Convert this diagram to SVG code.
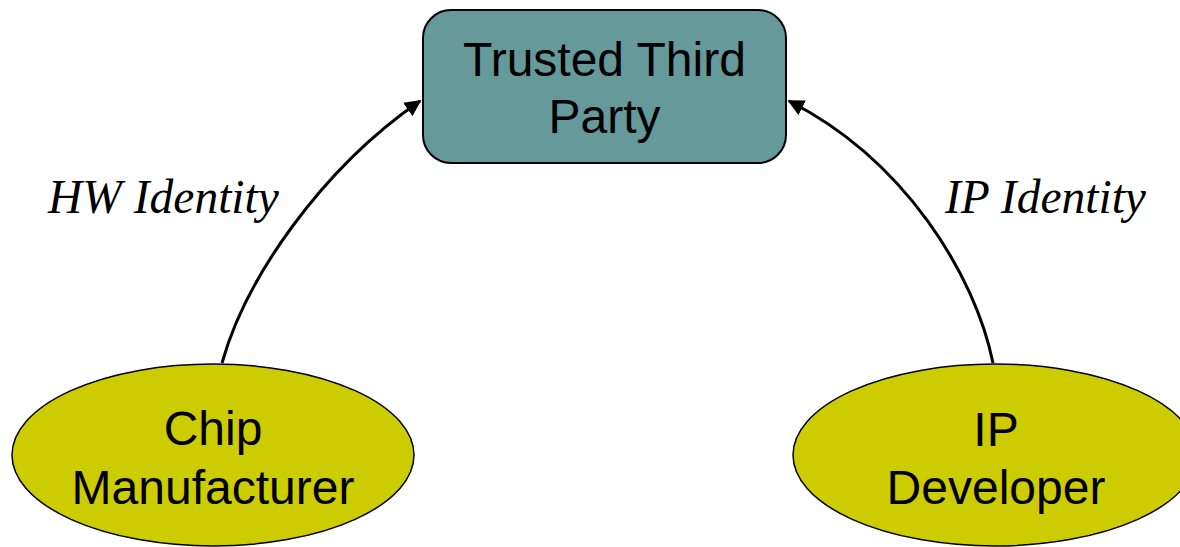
<svg xmlns="http://www.w3.org/2000/svg" width="1180" height="547" viewBox="0 0 1180 547">
  <style>
    .node-text { font-family: "Liberation Sans", Arial, sans-serif; font-size: 48px; fill: #000; text-anchor: middle; }
    .edge-label { font-family: "Liberation Serif", "Times New Roman", serif; font-style: italic; font-size: 47.5px; fill: #000; }
    .ttp { fill: #669999; stroke: #000; stroke-width: 2; }
    .party { fill: #CCCC00; stroke: #000; stroke-width: 1.5; }
    .edge { fill: none; stroke: #000; stroke-width: 3; marker-end: url(#arrow); }
  </style>
  <defs>
    <marker id="arrow" viewBox="0 0 10 10" refX="9" refY="5" markerWidth="5.5" markerHeight="5.5" orient="auto" markerUnits="strokeWidth">
      <path d="M0,0 L10,5 L0,10 Z" fill="#000"/>
    </marker>
  </defs>

  <rect width="1180" height="547" fill="#fff"/>

  <g id="connectors">
    <path class="edge" d="M222,363 C245,280 320,170 420,101"/>
    <path class="edge" d="M993,363 C975,275 905,160 789,101"/>
    <text class="edge-label" x="48" y="213">HW Identity</text>
    <text class="edge-label" x="945" y="213">IP Identity</text>
  </g>

  <g id="trusted-third-party">
    <rect class="ttp" x="423" y="10" width="363" height="153" rx="28" ry="28"/>
    <text class="node-text" x="604.5" y="76">Trusted Third</text>
    <text class="node-text" x="604.5" y="133">Party</text>
  </g>

  <g id="chip-manufacturer">
    <ellipse class="party" cx="213" cy="455" rx="201" ry="91"/>
    <text class="node-text" x="213" y="445">Chip</text>
    <text class="node-text" x="213" y="504">Manufacturer</text>
  </g>

  <g id="ip-developer">
    <ellipse class="party" cx="995" cy="455" rx="202" ry="91"/>
    <text class="node-text" x="996" y="446">IP</text>
    <text class="node-text" x="996" y="504">Developer</text>
  </g>
</svg>
